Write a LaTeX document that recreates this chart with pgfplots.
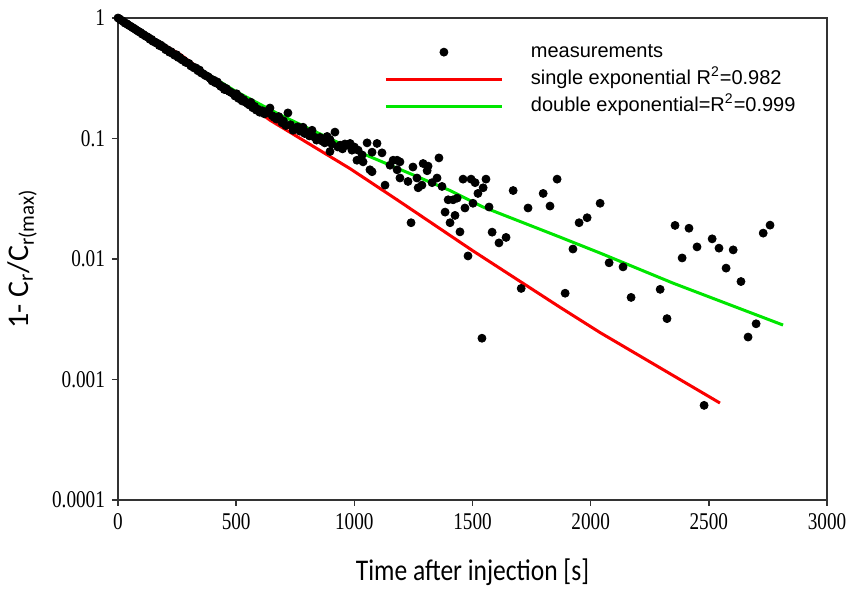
\documentclass[border=0pt]{standalone}
\usepackage{pgfplots}
\pgfplotsset{compat=1.18}
\usetikzlibrary{calc}
\usepackage{fontspec}
\setmainfont{Liberation Serif}
\newfontfamily\tickfont{Liberation Serif}[FakeStretch=0.8]
\newfontfamily\lsans{Liberation Sans}
\newfontfamily\carlito{Carlito}
\newfontfamily\carlitoc{Carlito}[FakeStretch=0.85]
\definecolor{fitred}{RGB}{250,0,0}
\definecolor{fitgreen}{RGB}{0,230,0}
\begin{document}
\begin{tikzpicture}
\begin{axis}[
  scale only axis,
  width=354.5pt, height=241pt,
  xmin=0, xmax=3000,
  ymode=log, ymin=1e-4, ymax=1,
  xtick={0,500,1000,1500,2000,2500,3000},
  xticklabels={0,500,1000,1500,2000,2500,3000},
  ytick={1e-4,1e-3,1e-2,1e-1,1},
  yticklabels={0.0001,0.001,0.01,0.1,1},
  yminorticks=false,
  tick align=outside,
  xtick pos=left, ytick pos=left,
  major tick length=3pt,
  tick label style={font=\tickfont\fontsize{12}{14}\selectfont},
  axis line style={black!80, line width=0.7pt},
  every tick/.style={black!80, line width=0.7pt},
  xlabel={\carlitoc\fontsize{15}{17}\selectfont Time after injection [s]},
  ylabel={\carlito\fontsize{15}{17}\selectfont 1- C\textsubscript{r}/C\textsubscript{r(max)}},
  xlabel style={at={(axis description cs:0.5,-0.149)}, anchor=center},
  ylabel style={at={(axis description cs:-0.135,0.5)}, anchor=center},
  legend style={draw=none, fill=none, at={(axis description cs:0.3752,0.958)}, anchor=north west,
    font=\lsans\fontsize{10}{12}\selectfont, inner sep=0pt, column sep=12pt,
    nodes={text height=7.5pt, text depth=2.5pt, inner sep=1.75pt}},
  legend cell align=left,
  legend image code/.code={\draw[#1] (0pt,0pt) -- (58pt,0pt);},
]
\coordinate (sw) at (rel axis cs:0,0);
\coordinate (ne) at (rel axis cs:1,1);
\addplot[fitred, line width=1.5pt, forget plot] coordinates {
(0,1) (262,0.50) (643,0.142) (982,0.0562) (1181,0.031) (1500,0.01175) (1870,0.00398) (2040,0.00245) (2547,0.000638)};
\addplot[fitgreen, line width=1.5pt, forget plot] coordinates {
(0,1) (250,0.49) (500,0.245) (686,0.157) (982,0.083) (1405,0.037) (1545,0.027) (1870,0.0152) (2040,0.0112) (2349,0.0063) (2814,0.00283)};
\addplot[only marks, mark=*, mark size=2pt, black, legend image code/.code={\fill[black] (29pt,0pt) circle (2pt);}] coordinates {
(0,1.00) (6,0.985) (12,0.96) (18,0.95) (24,0.93) (30,0.905) (36,0.90) (42,0.88) (48,0.865) (55,0.85)
(62,0.83) (68,0.82) (75,0.80) (82,0.785) (88,0.77) (95,0.76) (102,0.735) (108,0.73) (115,0.71) (122,0.70)
(128,0.69) (135,0.665) (142,0.665) (148,0.64) (155,0.635) (162,0.62) (168,0.615) (175,0.59) (182,0.595) (188,0.575)
(195,0.57) (202,0.545) (210,0.545) (218,0.52) (225,0.525) (232,0.505) (240,0.49) (248,0.495) (255,0.47) (262,0.47)
(270,0.45) (278,0.445) (285,0.43) (292,0.425) (300,0.42) (308,0.40) (315,0.395) (322,0.385) (330,0.385) (338,0.365)
(345,0.37) (352,0.35) (360,0.345) (368,0.335) (375,0.33) (382,0.325) (390,0.315) (398,0.30) (405,0.305) (412,0.29)
(420,0.295) (428,0.28) (435,0.27) (442,0.27) (450,0.255) (458,0.26) (465,0.25) (472,0.245) (480,0.24) (488,0.235)
(495,0.225) (502,0.235) (510,0.215) (518,0.22) (525,0.205) (532,0.21) (540,0.20) (548,0.195) (555,0.19) (562,0.20)
(570,0.18) (578,0.185) (585,0.172) (592,0.175) (600,0.165) (610,0.17) (620,0.16) (630,0.168) (643,0.179) (652,0.155)
(660,0.15) (670,0.145) (680,0.152) (694,0.135) (700,0.14) (710,0.128) (719,0.163) (730,0.13) (741,0.117) (750,0.12)
(760,0.125) (770,0.115) (783,0.124) (790,0.11) (800,0.112) (810,0.105) (821,0.117) (830,0.103) (840,0.097) (855,0.102)
(865,0.095) (875,0.092) (885,0.104) (897,0.098) (897,0.078) (905,0.09) (918,0.113) (930,0.085) (940,0.088) (950,0.082)
(960,0.09) (973,0.088) (982,0.091) (990,0.08) (1000,0.085) (1011,0.066) (1016,0.080) (1033,0.073) (1037,0.064) (1054,0.092)
(1066,0.055) (1075,0.053) (1075,0.077) (1096,0.091) (1117,0.076) (1130,0.041) (1151,0.060) (1164,0.066) (1181,0.066) (1193,0.064)
(1181,0.055) (1193,0.047) (1227,0.044) (1248,0.058) (1265,0.047) (1240,0.020) (1291,0.062) (1312,0.059) (1308,0.054) (1286,0.041)
(1270,0.039) (1329,0.043) (1350,0.047) (1358,0.069) (1371,0.040) (1384,0.0245) (1397,0.031) (1418,0.031) (1405,0.020) (1426,0.023)
(1435,0.032) (1447,0.0168) (1468,0.0265) (1460,0.046) (1494,0.046) (1511,0.043) (1523,0.035) (1545,0.039) (1557,0.046) (1502,0.029)
(1570,0.027) (1481,0.0106) (1583,0.0167) (1612,0.0136) (1642,0.0151) (1540,0.0022) (1672,0.037) (1735,0.0265) (1706,0.0057) (1799,0.035)
(1828,0.0275) (1858,0.046) (1892,0.0052) (1925,0.0121) (1951,0.020) (1985,0.022) (2040,0.029) (2078,0.0093) (2137,0.0086) (2171,0.0048)
(2294,0.0056) (2323,0.0032) (2357,0.019) (2387,0.0102) (2416,0.018) (2450,0.0126) (2480,0.00061) (2514,0.0147) (2543,0.0123) (2573,0.0084)
(2603,0.0119) (2636,0.0065) (2666,0.00225) (2700,0.0029) (2730,0.0164) (2759,0.0191)};
\addlegendentry{measurements}
\addlegendimage{fitred, line width=1.5pt}
\addlegendentry{single exponential R\textsuperscript{2}=0.982}
\addlegendimage{fitgreen, line width=1.5pt}
\addlegendentry{double exponential=R\textsuperscript{2}=0.999}
\end{axis}
\pgfresetboundingbox
\path ($(sw)+(-59pt,-48pt)$) rectangle ($(ne)+(14pt,9pt)$);
\end{tikzpicture}
\end{document}
